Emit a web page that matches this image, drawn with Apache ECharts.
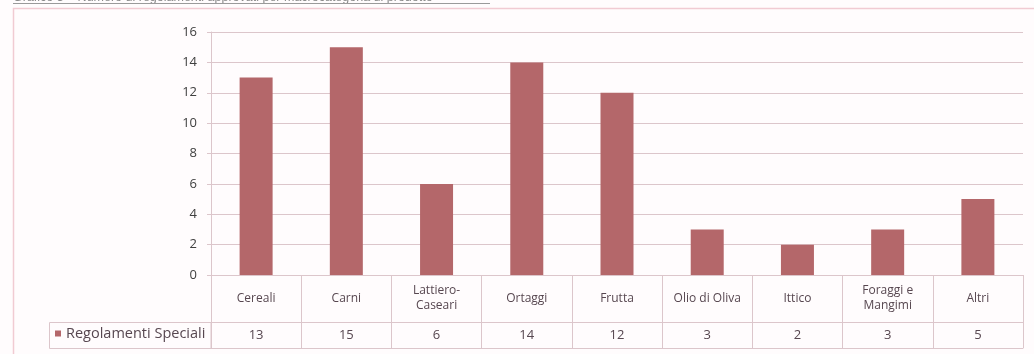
<!DOCTYPE html>
<html>
<head>
<meta charset="utf-8">
<script src="https://cdn.jsdelivr.net/npm/echarts@6/dist/echarts.min.js"></script>
<style>
  html, body { margin: 0; padding: 0; background: #fffcfd; }
  #chart { width: 1034px; height: 354px; }
</style>
</head>
<body>
<div id="chart"></div>
<script>
// Regolamenti speciali approvati, per macrocategoria di prodotto
const categories = ['Cereali', 'Carni', 'Lattiero-\nCaseari', 'Ortaggi', 'Frutta', 'Olio di Oliva', 'Ittico', 'Foraggi e\nMangimi', 'Altri'];
const regolamentiSpeciali = [13, 15, 6, 14, 12, 3, 2, 3, 5];
const yTicks = { min: 0, max: 16, interval: 2 };
const seriesName = 'Regolamenti Speciali';
const titleText = 'Grafico 3 – Numero di regolamenti approvati per macrocategoria di prodotto';

const BAR = '#b4676a';
const LINE = '#dcc6cb';
const TEXT = '#404040';
const TABLE_TEXT = '#574750';
const FONT = '"Open Sans", "Liberation Sans", sans-serif';

const chart = echarts.init(document.getElementById('chart'), null, { renderer: 'canvas' });

const gridBox = { left: 211, right: 11, top: 32, bottom: 79 };
const catRowH = 47;
const valRowH = 26;

chart.setOption({
  backgroundColor: '#fffcfd',
  animation: false,
  grid: { left: gridBox.left, right: gridBox.right, top: gridBox.top, bottom: gridBox.bottom, containLabel: false },
  legend: {
    data: [seriesName],
    left: 55,
    top: 326,
    padding: 0,
    icon: 'rect',
    itemWidth: 6,
    itemHeight: 6,
    textStyle: { fontFamily: FONT, fontSize: 14.5, color: TABLE_TEXT }
  },
  xAxis: [
    {
      type: 'category',
      data: categories,
      position: 'bottom',
      axisLine: { show: true, lineStyle: { color: LINE, width: 1 } },
      axisTick: { show: true, length: catRowH, interval: 0, lineStyle: { color: LINE } },
      axisLabel: {
        interval: 0, margin: catRowH / 2, verticalAlign: 'middle',
        fontFamily: FONT, fontSize: 12, color: TABLE_TEXT, lineHeight: 15
      }
    },
    {
      type: 'category',
      data: regolamentiSpeciali.map(String),
      position: 'bottom',
      offset: catRowH,
      axisLine: { show: true, lineStyle: { color: LINE, width: 1 } },
      axisTick: { show: true, length: valRowH, interval: 0, lineStyle: { color: LINE } },
      axisLabel: {
        interval: 0, margin: valRowH / 2, verticalAlign: 'middle',
        fontFamily: FONT, fontSize: 13, color: TABLE_TEXT
      }
    },
    {
      type: 'category',
      data: categories,
      position: 'bottom',
      offset: catRowH + valRowH,
      axisLine: { show: true, lineStyle: { color: LINE, width: 1 } },
      axisTick: { show: false },
      axisLabel: { show: false }
    }
  ],
  yAxis: {
    type: 'value',
    min: yTicks.min,
    max: yTicks.max,
    interval: yTicks.interval,
    axisLine: { show: true, lineStyle: { color: LINE } },
    axisTick: { show: true, length: 4, lineStyle: { color: LINE } },
    splitLine: { show: true, lineStyle: { color: LINE, width: 1 } },
    axisLabel: { margin: 14, fontFamily: FONT, fontSize: 13, color: TEXT }
  },
  series: [{
    name: seriesName,
    type: 'bar',
    data: regolamentiSpeciali,
    barWidth: 33,
    itemStyle: { color: BAR }
  }],
  graphic: [
    // outer frame of the chart area
    {
      type: 'rect', silent: true, z: -1,
      shape: { x: 13.5, y: 8.5, width: 1040, height: 360 },
      style: { fill: null, stroke: '#f1cbd3', lineWidth: 1.5 }
    },
    // legend cell of the data table
    {
      type: 'rect', silent: true,
      shape: { x: 49.5, y: 322.5, width: 161.5, height: 26 },
      style: { fill: null, stroke: LINE, lineWidth: 1 }
    },
    // document caption above the chart
    {
      type: 'text', silent: true,
      left: 13, top: -9,
      style: { text: titleText, fontFamily: '"Liberation Sans", Arial, sans-serif', fontSize: 12.5, fill: '#8a8a8a' }
    },
    {
      type: 'line', silent: true,
      shape: { x1: 13, y1: 3.5, x2: 490, y2: 3.5 },
      style: { stroke: '#9a9a9a', lineWidth: 1 }
    }
  ]
});
</script>
</body>
</html>
